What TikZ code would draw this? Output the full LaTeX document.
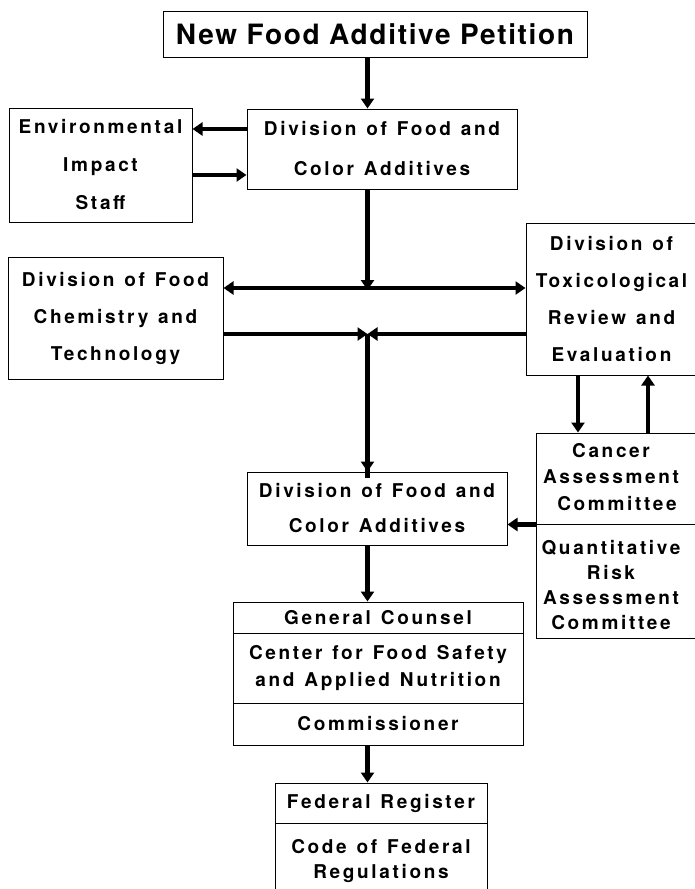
\documentclass[tikz,border=0pt]{standalone}
\usepackage{fontspec}
\usetikzlibrary{arrows.meta}
\newfontfamily\lblfont{TeX Gyre Heros}[LetterSpace=14,WordSpace=1.25]
\newfontfamily\ttlfont{TeX Gyre Heros}[LetterSpace=6]
\tikzset{
  box/.style={draw, line width=1pt, inner sep=0pt, align=center, rectangle},
  lbl/.style={font=\lblfont\bfseries\fontsize{19}{#1}\selectfont},
  arr/.style={line width=4.4pt, -{Triangle[length=10pt,width=13pt]}},
  darr/.style={line width=4.4pt, {Triangle[length=10pt,width=13pt]}-{Triangle[length=10pt,width=13pt]}}
}
\begin{document}
\begin{tikzpicture}[x=1pt,y=-1pt]
\useasboundingbox (0,0) rectangle (695,889);
\coordinate (spine) at (367.5,0);
% boxes
\node[box, minimum width=424pt, minimum height=46pt, font=\ttlfont\bfseries\fontsize{28}{34}\selectfont] (top) at (375,34) {New Food Additive Petition};
\node[box, lbl=40, minimum width=270pt, minimum height=80pt] (dfca1) at (382,149) {Division of Food and\\Color Additives};
\node[box, lbl=38, minimum width=183pt, minimum height=114pt] (env) at (100.5,165) {Environmental\\Impact\\Staff};
\node[box, lbl=37, minimum width=215pt, minimum height=122pt] (fchem) at (115.5,318.5) {Division of Food\\Chemistry and\\Technology};
\node[box, lbl=36.7, minimum width=171pt, minimum height=152pt] (tox) at (611.5,299) {Division of\\Toxicological\\Review and\\Evaluation};
\node[box, minimum width=161pt, minimum height=91pt] (cancer) at (616.5,478.5) {};
\node[lbl=26.5, align=center, inner sep=0pt] (cancert) at (611,477) {Cancer\\Assessment\\\hspace*{12pt}Committee};
\node[box, minimum width=161pt, minimum height=114pt] (qra) at (616.5,581) {};
\node[lbl=24.7, align=center, inner sep=0pt] (qrat) at (611,585) {Quantitative\\Risk\\Assessment\\Committee};
\node[box, lbl=35, minimum width=260pt, minimum height=73pt] (dfca2) at (377,508.5) {Division of Food and\\Color Additives};
\node[box, lbl=27, minimum width=290pt, minimum height=31pt] (gc1) at (378,617.5) {General Counsel};
\node[box, lbl=27, minimum width=290pt, minimum height=70pt] (gc2) at (378,668) {Center for Food Safety\\and Applied Nutrition};
\node[box, lbl=27, minimum width=290pt, minimum height=42pt] (gc3) at (378,724) {Commissioner};
\node[box, lbl=25, minimum width=212pt, minimum height=40pt] (fr1) at (381,803) {Federal Register};
\node[box, lbl=25, minimum width=212pt, minimum height=77pt] (fr2) at (381,861.5) {Code of Federal\\Regulations};
% junctions
\coordinate (j1) at (367.5,288);
\coordinate (j2) at (367.5,334);
% connectors
\draw[arr] (spine |- top.south) -- (spine |- dfca1.north);
\draw[arr] (dfca1.west |- 0,129) -- (env.east |- 0,129);
\draw[arr] (env.east |- 0,175) -- (dfca1.west |- 0,175);
\draw[arr] (spine |- dfca1.south) -- ([yshift=-2pt]j1);
\draw[darr] (fchem.east |- j1) -- (tox.west |- j1);
\draw[arr] (fchem.east |- j2) -- (j2);
\draw[arr] (tox.west |- j2) -- (j2);
\draw[line width=4.4pt] (j2) -- ([yshift=-6pt]spine |- dfca2.north);
\draw[arr] ([yshift=-1pt]j2) -- (spine |- dfca2.north);
\draw[arr] (tox.south -| 578,0) -- (cancer.north -| 578,0);
\draw[arr] (cancer.north -| 648,0) -- (tox.south -| 648,0);
\draw[arr] (cancer.south west) -- (dfca2.east |- cancer.south west);
\draw[arr] (spine |- dfca2.south) -- (spine |- gc1.north);
\draw[arr] (spine |- gc3.south) -- (spine |- fr1.north);
\end{tikzpicture}
\end{document}
